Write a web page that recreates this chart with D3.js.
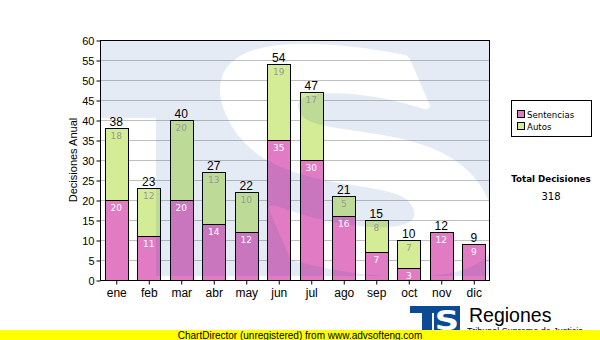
<!DOCTYPE html>
<html><head><meta charset="utf-8">
<script src="https://cdn.jsdelivr.net/npm/d3@7/dist/d3.min.js"></script>
<style>html,body{margin:0;padding:0;background:#fff;}svg{display:block;}</style>
</head><body>
<script>
const months = ["ene","feb","mar","abr","may","jun","jul","ago","sep","oct","nov","dic"];
const sentencias = [20,11,20,14,12,35,30,16,7,3,12,9];
const autos = [18,12,20,13,10,19,17,5,8,7,0,0];
const yTicks = [0,5,10,15,20,25,30,35,40,45,50,55,60];
const seriesNames = ["Sentencias","Autos"];
const seriesColors = ["#e07bc4","#d4ec96"];
const yTitle = "Decisiones Anual";
const totalLabel = "Total Decisiones";
const footerText = "ChartDirector (unregistered) from www.advsofteng.com";

const W = 600, H = 340;
const P = {l:100, r:490, t:40, b:280};
const svg = d3.select("body").append("svg").attr("width",W).attr("height",H);
const defs = svg.append("defs");

const x = d3.scaleBand().domain(months).range([P.l,P.r]).paddingInner(0.294).paddingOuter(0.147);
const y = d3.scaleLinear().domain([0,60]).range([P.b,P.t]);

// grid
svg.append("g").selectAll("line").data(yTicks.filter(d=>d>0&&d<60)).join("line")
  .attr("x1",P.l).attr("x2",P.r).attr("y1",d=>y(d)+0.5).attr("y2",d=>y(d)+0.5)
  .attr("stroke","#c0c0c0").attr("stroke-width",1);

// stacked bars
const data = months.map((m,i)=>({m, s:sentencias[i], a:autos[i], t:sentencias[i]+autos[i]}));
const gb = svg.append("g");
data.forEach(d=>{
  const bx = Math.round(x(d.m))+0.5, bw = Math.round(x.bandwidth());
  gb.append("rect").attr("x",bx).attr("y",Math.round(y(d.s))+0.5).attr("width",bw)
    .attr("height",y(0)-y(d.s)).attr("fill",seriesColors[0]).attr("stroke","#000");
  if(d.a>0){
    gb.append("rect").attr("x",bx).attr("y",Math.round(y(d.t))+0.5).attr("width",bw)
      .attr("height",y(d.s)-y(d.t)).attr("fill",seriesColors[1]).attr("stroke","#000");
  }
});

// watermark overlay (logo with white S)
const mask = defs.append("mask").attr("id","wm").attr("maskUnits","userSpaceOnUse")
  .attr("x",0).attr("y",0).attr("width",W).attr("height",H);
mask.append("rect").attr("x",P.l).attr("y",P.t).attr("width",P.r-P.l).attr("height",78).attr("fill","#fff");
mask.append("rect").attr("x",156).attr("y",P.t).attr("width",P.r-156).attr("height",236).attr("fill","#fff");
mask.append("text").attr("transform","matrix(1.26,0,0.43,1,405,268)")
  .attr("text-anchor","middle").attr("font-family","DejaVu Sans").attr("font-weight","bold")
  .attr("font-size",296).attr("fill","#000").attr("stroke","#000").attr("stroke-width",9)
  .attr("stroke-linejoin","round").text("S");
svg.append("rect").attr("x",P.l).attr("y",P.t).attr("width",P.r-P.l).attr("height",P.b-P.t)
  .attr("fill","#1a4f9c").attr("fill-opacity",0.115).attr("mask","url(#wm)");

// segment labels
data.forEach(d=>{
  const cx = x(d.m)+x.bandwidth()/2;
  svg.append("text").attr("x",cx).attr("y",y(d.s)+11).attr("text-anchor","middle")
    .attr("font-family","DejaVu Sans").attr("font-size",9).attr("fill","#fff").text(d.s);
  if(d.a>0) svg.append("text").attr("x",cx).attr("y",y(d.t)+11).attr("text-anchor","middle")
    .attr("font-family","DejaVu Sans").attr("font-size",9).attr("fill","#999").text(d.a);
  svg.append("text").attr("x",cx).attr("y",y(d.t)-2).attr("text-anchor","middle")
    .attr("font-family","Liberation Sans").attr("font-size",12).attr("fill","#000").text(d.t);
});

// frame
svg.append("rect").attr("x",P.l+0.5).attr("y",P.t+0.5).attr("width",P.r-P.l-1).attr("height",P.b-P.t)
  .attr("fill","none").attr("stroke","#000");

// axes
const ya = svg.append("g").attr("transform",`translate(${P.l+0.5},0.5)`)
  .call(d3.axisLeft(y).tickValues(yTicks).tickSize(4).tickPadding(2));
ya.select(".domain").remove();
ya.selectAll("text").attr("font-family","Liberation Sans").attr("font-size",11).attr("fill","#000");
const xa = svg.append("g").attr("transform",`translate(0.5,${P.b+0.5})`)
  .call(d3.axisBottom(x).tickSize(4).tickPadding(4));
xa.select(".domain").remove();
xa.selectAll("text").attr("font-family","Liberation Sans").attr("font-size",12).attr("fill","#000");

svg.append("text").attr("transform",`translate(77,${(P.t+P.b)/2}) rotate(-90)`)
  .attr("text-anchor","middle").attr("font-family","Liberation Sans").attr("font-size",11).text(yTitle);

// legend
const lg = svg.append("g");
lg.append("rect").attr("x",511.5).attr("y",100.5).attr("width",80).attr("height",36).attr("fill","#fff").attr("stroke","#000");
seriesNames.forEach((n,i)=>{
  lg.append("rect").attr("x",517.5).attr("y",110.5+i*12).attr("width",7).attr("height",7)
    .attr("fill",seriesColors[i]).attr("stroke","#000");
  lg.append("text").attr("x",527).attr("y",117.5+i*12).attr("font-family","DejaVu Sans")
    .attr("font-size",8.6).text(n);
});
const total = d3.sum(sentencias)+d3.sum(autos);
svg.append("text").attr("x",551).attr("y",182).attr("text-anchor","middle").attr("font-family","DejaVu Sans")
  .attr("font-weight","bold").attr("font-size",8.7).text(totalLabel);
svg.append("text").attr("x",551).attr("y",200).attr("text-anchor","middle").attr("font-family","DejaVu Sans")
  .attr("font-size",10).text(total);

// bottom logo
const logo = svg.append("g");
logo.append("rect").attr("x",410).attr("y",306).attr("width",50).attr("height",7).attr("fill","#0d4a94");
logo.append("rect").attr("x",422).attr("y",306).attr("width",10).attr("height",30).attr("fill","#0d4a94");
logo.append("rect").attr("x",434).attr("y",306).attr("width",26).attr("height",30).attr("fill","#0d4a94");
logo.append("text").attr("transform","translate(447,330) scale(1.3,1)").attr("text-anchor","middle")
  .attr("font-family","DejaVu Sans").attr("font-weight","bold").attr("font-size",26).attr("fill","#fff").text("S");
svg.append("text").attr("x",469).attr("y",322).attr("font-family","Liberation Sans").attr("font-size",19.5).text("Regiones");
svg.append("text").attr("x",467).attr("y",334).attr("font-family","Liberation Sans").attr("font-size",9).text("Tribunal Supremo de Justicia");

// footer
svg.append("rect").attr("x",0).attr("y",330).attr("width",W).attr("height",10).attr("fill","#ffff00");
svg.append("text").attr("x",300).attr("y",338.5).attr("text-anchor","middle").attr("font-family","Liberation Sans")
  .attr("font-size",10).text(footerText);
</script>
</body></html>
